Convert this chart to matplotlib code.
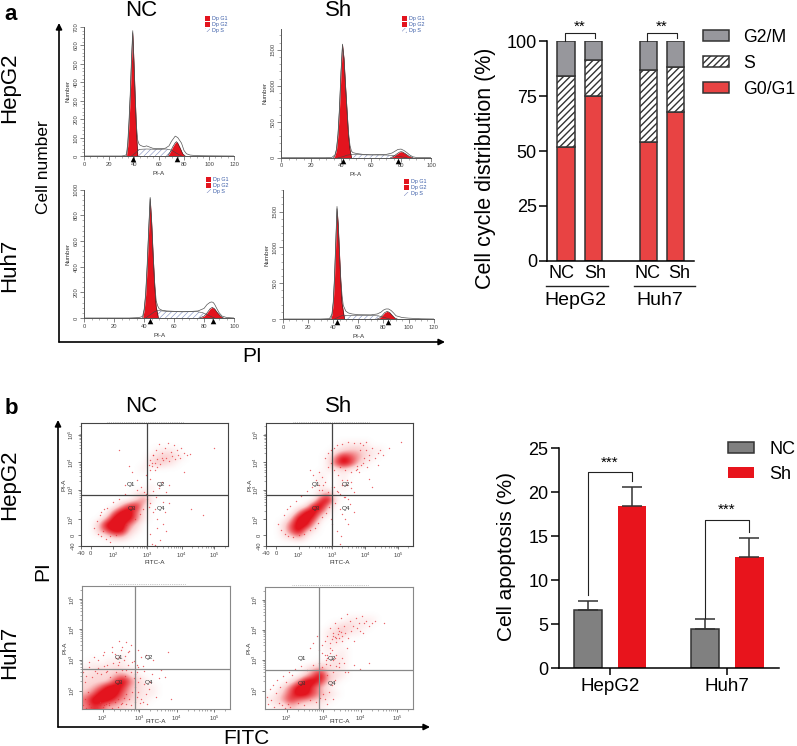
import numpy as np
import matplotlib
matplotlib.use('Agg')
import matplotlib.pyplot as plt
from matplotlib.colors import LinearSegmentedColormap
from matplotlib.transforms import blended_transform_factory

plt.rcParams['font.family'] = ['Liberation Sans', 'DejaVu Sans']
plt.rcParams['mathtext.default'] = 'regular'

W, H = 797, 746
RED_FLOW = '#E3141E'

""" cell cycle histograms: x is PI-A, y is Number """
a_x = [0, 30, 33, 34, 35, 36, 37, 38, 39, 40, 41, 42, 43, 44, 45, 48, 50, 55, 60, 65, 68, 70, 73, 75, 78, 80, 82, 85, 90, 100, 120]
a_total = [0, 0, 3, 10, 70, 190, 340, 530, 680, 510, 320, 160, 85, 65, 58, 50, 55, 42, 40, 42, 55, 80, 108, 100, 70, 30, 12, 5, 2, 1, 0]
a_g1_x = [34, 35, 36, 37, 38, 39, 40, 41, 42, 43]
a_g1_y = [0, 55, 175, 325, 515, 670, 495, 305, 130, 0]
a_s_x = [38, 41, 44, 50, 60, 66, 70, 74, 78]
a_s_y = [0, 15, 36, 38, 36, 38, 32, 15, 0]
a_g2_x = [67, 69, 71, 73, 74, 75, 77, 79, 81]
a_g2_y = [0, 22, 50, 72, 78, 70, 42, 12, 0]

b_x = [0, 30, 34, 36, 37, 38, 39, 40, 41, 42, 43, 44, 45, 46, 47, 48, 50, 55, 60, 70, 74, 76, 78, 80, 82, 84, 86, 88, 90, 100]
b_total = [0, 0, 5, 40, 120, 330, 700, 1200, 1580, 1390, 1020, 680, 350, 170, 90, 70, 60, 45, 40, 45, 65, 90, 115, 120, 100, 70, 35, 12, 4, 0]
b_g1_x = [35, 36, 37, 38, 39, 40, 41, 42, 43, 44, 45, 46, 47]
b_g1_y = [0, 30, 110, 320, 680, 1180, 1570, 1370, 1000, 650, 310, 110, 0]
b_s_x = [38, 41, 44, 47, 55, 65, 72, 78, 84]
b_s_y = [0, 12, 35, 45, 40, 38, 36, 20, 0]
b_g2_x = [73, 75, 77, 79, 80, 81, 83, 85, 88]
b_g2_y = [0, 18, 50, 78, 84, 80, 55, 25, 0]

c_x = [0, 30, 36, 38, 39, 40, 41, 42, 43, 44, 45, 46, 47, 48, 49, 50, 52, 55, 60, 70, 76, 80, 82, 84, 85, 86, 87, 88, 90, 92, 95, 100]
c_total = [0, 0, 3, 8, 15, 70, 190, 415, 690, 940, 750, 495, 280, 135, 95, 72, 60, 55, 52, 50, 55, 75, 105, 122, 125, 122, 108, 85, 42, 15, 4, 0]
c_g1_x = [39, 40, 41, 42, 43, 44, 45, 46, 47, 48, 49.5]
c_g1_y = [0, 60, 180, 400, 680, 930, 740, 480, 250, 90, 0]
c_s_x = [41, 44, 47, 49, 55, 65, 75, 79, 83, 87]
c_s_y = [0, 25, 50, 58, 52, 48, 50, 42, 20, 0]
c_g2_x = [77, 80, 82, 84, 85.5, 87, 89, 91, 93]
c_g2_y = [0, 15, 40, 72, 83, 72, 40, 15, 0]

d_x = [0, 30, 37, 39, 40, 41, 42, 43, 44, 45, 46, 47, 48, 50, 52, 55, 60, 70, 75, 78, 80, 82, 84, 86, 88, 90, 95, 100, 110, 120]
d_total = [0, 0, 5, 70, 240, 580, 1070, 1570, 1320, 920, 560, 330, 190, 110, 85, 70, 60, 58, 70, 95, 125, 140, 140, 120, 85, 45, 20, 12, 3, 0]
d_g1_x = [38, 39, 40, 41, 42, 43, 44, 45, 46, 47, 49]
d_g1_y = [0, 60, 220, 560, 1050, 1540, 1300, 900, 520, 220, 0]
d_s_x = [41, 44, 47, 50, 60, 70, 76, 80, 85]
d_s_y = [0, 25, 48, 50, 48, 48, 44, 25, 0]
d_g2_x = [75, 77, 79, 81, 83, 85, 87, 89, 91]
d_g2_y = [0, 15, 50, 90, 107, 90, 50, 15, 0]

""" stacked bars, panel a """
cycle_pos = [0, 1, 3, 4]
cycle_label_pos = [-0.15, 1.06, 2.96, 4.12]
cycle_labels = ['NC', 'Sh', 'NC', 'Sh']
g0g1 = [52, 75, 54, 68]
s_phase = [32, 16.3, 32.7, 20.3]
g2m = [16, 8.7, 13.3, 11.7]

""" apoptosis bars, panel b """
lines = ['HepG2', 'Huh7']
nc_apo = [6.6, 4.5]
nc_err = [1.0, 1.15]
sh_apo = [18.4, 12.7]
sh_err = [2.2, 2.15]

""" dot plots, panel b: density read per 5% cell of the box, rows from the top, short rows end in zeros """
nc_hep_density = [
    '', '', '', '',
    '000000000011100',
    '000000000123210',
    '000000000232100',
    '000000001',
    '',
    '',
    '000000000100',
    '0000000120',
    '0000000251',
    '000003782',
    '000059951',
    '000399951',
    '003999520',
    '0036993100',
    '00013310',
    '',
]
sh_hep_density = [
    '', '', '',
    '00000000001111',
    '00000000012332110',
    '00000000148642100',
    '00000000169731000',
    '0000000011210',
    '0000000100100',
    '000000010010',
    '000000010010',
    '0000000240',
    '0000000791',
    '000001893',
    '000049951',
    '000399710',
    '00269930',
    '00269310',
    '0012410',
    '',
]
nc_huh_density = [
    '', '', '', '', '', '', '', '', '', '', '',
    '0000010',
    '01011100',
    '1121211',
    '12223421',
    '222269521',
    '2359973211',
    '35999532110',
    '59996431100',
    '4763321100',
]
sh_huh_density = [
    '', '', '', '', '',
    '0000000000011110',
    '000000000122110',
    '000000001231100',
    '00000000121',
    '0000000011',
    '00000000101',
    '000000000110',
    '000000011210',
    '0000013421100',
    '000002593210',
    '0001499731',
    '00259963100',
    '0136996421',
    '124754321',
    '011321110',
]

# single dots around the clouds, percent of the box
nc_hep_x = [9, 11, 12, 13, 14, 14, 15, 16, 17, 18, 20, 22, 24, 26, 28, 30, 31, 33, 35, 37, 38, 40, 41, 42, 43, 44, 45, 46, 46, 47, 48, 49, 50, 51, 52, 53, 54, 55, 56, 57, 58, 59, 60, 61, 62, 63, 64, 65, 66, 67, 68, 70, 72, 74, 44, 47, 50, 53, 55, 58, 60, 49, 52, 56, 35, 38, 30, 47, 50, 52, 54, 47, 49, 51, 56, 57, 60, 75, 83, 90, 33, 26, 20, 48, 50, 53, 58, 70, 48, 52, 55, 47, 49]
nc_hep_y = [15, 20, 10, 25, 8, 28, 12, 30, 6, 31, 8, 36, 9, 38, 12, 42, 17, 20, 24, 22, 46, 26, 48, 30, 44, 42, 38, 32, 66, 70, 65, 74, 68, 78, 71, 83, 67, 76, 70, 80, 72, 84, 69, 77, 73, 82, 71, 78, 74, 72, 80, 76, 74, 75, 58, 55, 62, 47, 52, 44, 50, 28, 22, 18, 60, 54, 50, 35, 30, 15, 5, 10, 45, 40, 36, 28, 35, 30, 25, 80, 65, 78, 3, 2, 1, 50, 12, 60, 68, 64, 72, 62, 74]

sh_hep_x = [8, 10, 12, 13, 14, 15, 16, 18, 20, 22, 24, 26, 28, 30, 31, 33, 35, 36, 38, 39, 41, 42, 43, 44, 45, 36, 38, 40, 42, 44, 45, 46, 48, 49, 50, 52, 54, 55, 56, 58, 60, 61, 62, 63, 64, 65, 66, 67, 68, 69, 70, 72, 74, 76, 78, 80, 84, 40, 42, 44, 46, 48, 50, 52, 54, 56, 58, 60, 62, 64, 66, 68, 70, 30, 32, 34, 36, 38, 47, 50, 52, 54, 56, 48, 51, 53, 57, 60, 72, 70, 76, 92, 46, 49, 52, 55, 58, 50]
sh_hep_y = [18, 13, 25, 10, 30, 8, 33, 7, 37, 9, 41, 10, 45, 13, 48, 15, 19, 46, 24, 50, 27, 44, 32, 22, 18, 60, 56, 52, 64, 68, 48, 62, 45, 58, 42, 54, 40, 50, 38, 47, 44, 62, 65, 60, 78, 66, 82, 72, 78, 64, 74, 80, 72, 76, 78, 74, 80, 72, 76, 78, 80, 82, 64, 83, 62, 85, 60, 84, 63, 84, 68, 85, 70, 62, 58, 54, 50, 46, 35, 30, 26, 22, 18, 12, 8, 40, 34, 28, 48, 55, 66, 85, 48, 44, 50, 54, 52, 2]

nc_huh_x = [1, 1, 2, 2, 3, 3, 4, 5, 5, 6, 7, 8, 9, 10, 11, 12, 13, 14, 15, 16, 17, 18, 19, 20, 21, 22, 23, 24, 25, 26, 27, 28, 29, 30, 31, 32, 33, 34, 35, 36, 37, 38, 5, 8, 11, 14, 17, 20, 23, 26, 29, 32, 35, 38, 12, 15, 18, 21, 24, 27, 30, 33, 36, 39, 37, 38, 39, 40, 41, 42, 43, 45, 47, 50, 53, 56, 60, 33, 38, 43, 48, 27, 30, 22, 25, 28, 31, 34, 37, 40, 42, 44, 46, 52, 58, 10, 16, 24, 30, 36, 41, 15, 20, 25]
nc_huh_y = [3, 30, 8, 22, 1, 27, 14, 4, 34, 2, 26, 1, 31, 2, 33, 3, 28, 2, 35, 4, 31, 3, 26, 1, 37, 6, 30, 8, 38, 4, 32, 9, 27, 12, 36, 8, 30, 14, 25, 18, 10, 22, 38, 42, 40, 44, 36, 46, 41, 48, 43, 47, 39, 34, 6, 3, 5, 8, 2, 5, 4, 3, 6, 5, 30, 14, 25, 8, 35, 20, 12, 16, 28, 10, 32, 26, 8, 52, 48, 44, 40, 50, 54, 45, 42, 40, 46, 38, 36, 42, 31, 4, 22, 25, 46, 29, 30, 36, 32, 28, 6, 46, 50, 55]

sh_huh_x = [1, 2, 3, 4, 5, 6, 7, 8, 9, 10, 11, 12, 13, 14, 15, 16, 17, 18, 20, 22, 24, 26, 28, 30, 32, 34, 36, 37, 38, 39, 40, 41, 42, 43, 44, 45, 46, 47, 48, 36, 38, 40, 42, 42, 44, 44, 45, 46, 47, 48, 49, 50, 51, 52, 53, 54, 55, 56, 57, 58, 59, 60, 61, 62, 63, 64, 65, 66, 67, 68, 70, 72, 74, 40, 42, 44, 46, 48, 50, 52, 54, 30, 32, 35, 38, 41, 44, 47, 50, 53, 56, 60, 64, 70, 46, 48, 50, 52, 45, 47, 49, 51, 80, 55, 42, 46]
sh_huh_y = [10, 4, 16, 7, 20, 2, 13, 24, 5, 18, 3, 27, 1, 22, 4, 30, 2, 28, 33, 5, 35, 3, 32, 7, 36, 6, 38, 9, 34, 12, 8, 37, 28, 14, 36, 20, 30, 24, 35, 48, 52, 56, 44, 60, 54, 66, 48, 60, 70, 55, 66, 58, 74, 60, 68, 62, 78, 58, 72, 64, 68, 56, 74, 66, 70, 64, 76, 62, 70, 72, 68, 70, 72, 44, 42, 46, 40, 44, 38, 42, 30, 50, 54, 60, 46, 40, 50, 42, 34, 38, 30, 36, 33, 38, 62, 58, 64, 56, 57, 59, 61, 63, 70, 50, 4, 8]

density_cmap = LinearSegmentedColormap.from_list('dots', ['#FFFFFF', '#FBD0D0', '#EF6A6E', RED_FLOW])


def ax_px(left, top, right, bottom):
    # axes from pixel edges of the figure
    return fig.add_axes([left / W, 1 - bottom / H, (right - left) / W, (bottom - top) / H])


def label_px(x, y, s, size, **kw):
    kw.setdefault('ha', 'center')
    kw.setdefault('va', 'center')
    fig.text(x / W, 1 - y / H, s, fontsize=size, **kw)


def hist_panel(box, xmax, ymax, xticks, yticks, yminor, legend_xy, total, g1, s_ph, g2, marks):
    ax = ax_px(*box)
    ax.set_xlim(0, xmax)
    ax.set_ylim(0, ymax)
    ax.patch.set_alpha(0)
    for sp in ['top', 'right']:
        ax.spines[sp].set_visible(False)
    for sp in ['left', 'bottom']:
        ax.spines[sp].set_color('#555555')
        ax.spines[sp].set_linewidth(0.7)
    ax.set_xticks(xticks)
    ax.set_yticks(yticks)
    ax.set_yticks(yminor, minor=True)
    ax.set_xticks(np.arange(0, xmax + 1, 5), minor=True)
    ax.tick_params(axis='both', which='major', length=3, width=0.5, color='#555555',
                   labelsize=4.2, labelcolor='#444444', pad=1)
    ax.tick_params(axis='both', which='minor', length=1.5, width=0.4, color='#777777')
    plt.setp(ax.get_yticklabels(), rotation=90, va='center')
    ax.set_xlabel('PI-A', fontsize=4.5, color='#333333', labelpad=3)
    ax.set_ylabel('Number', fontsize=4.5, color='#333333', labelpad=2)

    ax.fill_between(s_ph[0], s_ph[1], color='white', hatch='//////', edgecolor='#7D8CC0', lw=0)
    ax.fill_between(g1[0], g1[1], color=RED_FLOW, lw=0)
    ax.fill_between(g2[0], g2[1], color=RED_FLOW, lw=0)
    ax.plot(g1[0], g1[1], color='#222222', lw=0.4)
    ax.plot(g2[0], g2[1], color='#222222', lw=0.4)
    ax.plot(s_ph[0], s_ph[1], color='#444444', lw=0.4)
    ax.plot(total[0], total[1], color='#555555', lw=0.5)
    trans = blended_transform_factory(ax.transData, ax.transAxes)
    ax.scatter(marks, [-0.022] * len(marks), marker='^', s=16, color='black', transform=trans,
               clip_on=False, zorder=5, linewidths=0)

    # little modfit legend
    for i, (name, col) in enumerate([('Dp G1', RED_FLOW), ('Dp G2', RED_FLOW), ('Dp S', None)]):
        lx, ly = legend_xy
        y = ly + i * 5.9
        if col:
            fig.patches.append(plt.Rectangle(((lx - 2.5) / W, 1 - (y + 2.3) / H), 5 / W, 4.6 / H,
                                             transform=fig.transFigure, color=col, lw=0))
        else:
            fig.patches.append(plt.Rectangle(((lx - 2.5) / W, 1 - (y + 2) / H), 5 / W, 4 / H,
                                             transform=fig.transFigure, facecolor='white',
                                             edgecolor='#7D8CC0', hatch='//////', lw=0))
        label_px(lx + 5, y, name, 3.9, ha='left', color='#3B5DA8')
    return ax


def dot_panel(box, frame_col, cross, xdec, ydec, extra_low, qpos, density, px, py, xpad):
    ax = ax_px(*box)
    grid = np.array([[int(c) for c in row.ljust(20, '0')] for row in density], dtype=float)
    ax.imshow(grid, extent=(0, 100, 0, 100), origin='upper', cmap=density_cmap, vmin=0, vmax=7.5,
              interpolation='bicubic', aspect='auto', zorder=1)
    ax.set_xlim(0, 100)
    ax.set_ylim(0, 100)
    for sp in ax.spines.values():
        sp.set_color(frame_col)
        sp.set_linewidth(0.8)
    ax.scatter(px, py, s=1.0, color='#E5333A', alpha=0.75, linewidths=0, zorder=2)
    ax.axvline(cross[0], color=frame_col, lw=0.9, zorder=3)
    ax.axhline(cross[1], color=frame_col, lw=0.9, zorder=3)
    ax.plot([18, 70], [101, 101], ls=':', color='#999999', lw=0.5, clip_on=False)
    for name, (qx, qy) in zip(['Q1', 'Q2', 'Q3', 'Q4'], qpos):
        ax.text(qx, qy, name, fontsize=4.6, color='#333333', ha='center', va='center', zorder=4)

    powers = [2, 3, 4, 5]
    lab = ['$10^{%d}$' % p for p in powers]
    step = xdec[1] - xdec[0]
    xminor = [d + step * np.log10(m) for d in xdec for m in range(2, 10)]
    step = ydec[1] - ydec[0]
    yminor = [d + step * np.log10(m) for d in ydec for m in range(2, 10)]
    ax.set_xticks(list(extra_low[0]) + list(xdec))
    ax.set_xticklabels(list(extra_low[1]) + lab)
    ax.set_yticks(list(extra_low[2]) + list(ydec))
    ax.set_yticklabels(list(extra_low[3]) + lab, rotation=90, va='center')
    ax.set_xticks([v for v in xminor if v < 100], minor=True)
    ax.set_yticks([v for v in yminor if v < 100], minor=True)
    ax.tick_params(axis='both', which='major', length=2.5, width=0.5, color='#444444',
                   labelsize=4.2, labelcolor='#444444', pad=1)
    ax.tick_params(axis='both', which='minor', length=1.5, width=0.4, color='#666666')
    ax.set_xlabel('FITC-A', fontsize=4.6, color='#333333', labelpad=xpad)
    ax.set_ylabel('PI-A', fontsize=4.6, color='#333333', labelpad=0)
    return ax


fig = plt.figure(figsize=(W / 100, H / 100), dpi=100)

# flow histograms, thin hatch for these
plt.rcParams['hatch.linewidth'] = 0.4
hist_panel((84, 27, 234, 156), 120, 700, range(0, 121, 20), range(0, 701, 100), range(0, 701, 20), (207, 18.3),
           (a_x, a_total), (a_g1_x, a_g1_y), (a_s_x, a_s_y), (a_g2_x, a_g2_y), [39, 74])
hist_panel((281, 29, 431, 157.7), 100, 1790, range(0, 101, 20), [0, 500, 1000, 1500], range(0, 1791, 100), (404, 18.7),
           (b_x, b_total), (b_g1_x, b_g1_y), (b_s_x, b_s_y), (b_g2_x, b_g2_y), [41, 78])
hist_panel((84.3, 189.7, 234, 318), 100, 1000, range(0, 101, 20), range(0, 1001, 200), range(0, 1001, 40), (208, 179.3),
           (c_x, c_total), (c_g1_x, c_g1_y), (c_s_x, c_s_y), (c_g2_x, c_g2_y), [44, 86])
hist_panel((283, 190, 433.7, 319), 120, 1800, range(0, 121, 20), [0, 500, 1000, 1500], range(0, 1801, 100), (406, 181.7),
           (d_x, d_total), (d_g1_x, d_g1_y), (d_s_x, d_s_y), (d_g2_x, d_g2_y), [43, 84])

# dot plots
dot_panel((80.7, 423.3, 228.3, 546), '#444444', (44.7, 41.5), [21.8, 45, 68.4, 90.5], [21.7, 45.6, 68.2, 90.5],
          ([0, 6.8], ['-40', '0'], [0, 9], ['-40', '0']),
          [(34, 50.5), (54.4, 50.5), (34.5, 30.7), (54.2, 30.7)], nc_hep_density, nc_hep_x, nc_hep_y, 0)
dot_panel((266.3, 423.3, 412.7, 546), '#444444', (44.6, 41.5), [22, 45, 67.5, 90], [21.7, 45.6, 68.2, 90.5],
          ([0, 6.8], ['-40', '0'], [0, 9], ['-40', '0']),
          [(34, 50.5), (54.4, 50.5), (34, 30.2), (54.4, 30.2)], sh_hep_density, sh_hep_x, sh_hep_y, 0)
dot_panel((82, 585.7, 230.3, 709), '#888888', (35.5, 32.5), [14, 38.6, 63.8, 89], [15, 40, 64.6, 89],
          ([], [], [], []),
          [(25, 41.6), (45, 41.6), (25, 21.6), (45, 21.6)], nc_huh_density, nc_huh_x, nc_huh_y, -3)
dot_panel((265.3, 586.7, 413.3, 709), '#888888', (36, 32), [14.4, 39, 64.4, 89], [15, 40, 64.6, 89],
          ([], [], [], []),
          [(25, 41), (45, 41), (25, 21), (45, 21)], sh_huh_density, sh_huh_x, sh_huh_y, -3)

# overlay in figure pixels for the long arrows and group rules
over = fig.add_axes([0, 0, 1, 1], zorder=-1)
over.set_xlim(0, W)
over.set_ylim(H, 0)
over.axis('off')
arrow = dict(arrowstyle='-|>', color='black', lw=1.2, mutation_scale=9, shrinkA=0, shrinkB=0)
over.annotate('', xy=(59, 23), xytext=(59, 342), arrowprops=arrow)
over.annotate('', xy=(445, 342), xytext=(59, 342), arrowprops=arrow)
over.annotate('', xy=(58, 420), xytext=(58, 727), arrowprops=arrow)
over.annotate('', xy=(430, 727), xytext=(58, 727), arrowprops=arrow)
over.plot([546, 608], [286, 286], color='#222222', lw=1)
over.plot([634, 695], [286, 286], color='#222222', lw=1)

# big labels
big = 16
label_px(11, 15, 'a', 16, fontweight='bold')
label_px(11, 408, 'b', 16, fontweight='bold')
label_px(141, 11, 'NC', big)
label_px(339, 11, 'Sh', big)
label_px(141, 407, 'NC', big)
label_px(339, 407, 'Sh', big)
label_px(10, 88, 'HepG2', big, rotation=90)
label_px(10, 265, 'Huh7', big, rotation=90)
label_px(10, 485, 'HepG2', big, rotation=90)
label_px(10, 652, 'Huh7', big, rotation=90)
label_px(43, 167, 'Cell number', 12.5, rotation=90)
label_px(43, 571, 'PI', 15, rotation=90)
label_px(252, 357, 'PI', 15)
label_px(246, 738, 'FITC', 15)

""" stacked bars """
plt.rcParams['hatch.linewidth'] = 1.0
ax = ax_px(547.3, 41.3, 694, 260.7)
ax.set_xlim(-0.68, 4.67)
ax.set_ylim(0, 100)
edge = '#333333'
bottom2 = np.array(g0g1) + np.array(s_phase)
ax.bar(cycle_pos, g0g1, 0.63, color='#E84343', edgecolor=edge, lw=1.1, label='G0/G1')
ax.bar(cycle_pos, s_phase, 0.63, bottom=g0g1, color='white', edgecolor=edge, hatch='/////', lw=1.1, label='S')
ax.bar(cycle_pos, g2m, 0.63, bottom=bottom2, color='#97979C', edgecolor=edge, lw=1.1, label='G2/M')
for sp in ['top', 'right']:
    ax.spines[sp].set_visible(False)
ax.spines['left'].set_linewidth(1.1)
ax.spines['bottom'].set_linewidth(1.1)
ax.set_yticks([0, 25, 50, 75, 100])
ax.set_xticks(cycle_label_pos)
ax.set_xticklabels(cycle_labels)
ax.tick_params(axis='y', labelsize=13, length=5.5, width=1.1, pad=2)
ax.tick_params(axis='x', labelsize=13, length=0, pad=3)
ax.set_ylabel('Cell cycle distribution (%)', fontsize=15.5)
ax.yaxis.set_label_coords(-0.35, 0.42)
for (x0, x1) in [(0, 1), (3, 4)]:
    ax.plot([x0 - 0.05, x0 - 0.05, x1 + 0.05, x1 + 0.05], [100, 103.6, 103.6, 101.5], color='#222222', lw=0.8, clip_on=False)
    ax.text((x0 + x1) / 2, 106.5, '**', fontsize=11, ha='center', va='center', clip_on=False)
label_px(575, 301, 'HepG2', 14)
label_px(660, 301, 'Huh7', 14)
h, l = ax.get_legend_handles_labels()
fig.legend(h[::-1], l[::-1], loc='upper left', bbox_to_anchor=(703 / W, 1 - 29 / H), frameon=False, fontsize=12.7,
           handlelength=1.45, handleheight=0.55, handletextpad=0.85, labelspacing=0.5, borderpad=0, borderaxespad=0)

""" apoptosis bars """
ax = ax_px(559, 448.3, 778.7, 668.3)
ax.set_xlim(-0.434, 1.437)
ax.set_ylim(0, 25)
x = np.arange(len(lines))
off = 0.188
bw = 0.24
nc_bars = ax.bar(x - off, nc_apo, bw, color='#808080', edgecolor=edge, lw=1.1, label='NC')
sh_bars = ax.bar(x + off, sh_apo, bw, color='#E8141C', edgecolor=edge, lw=0, label='Sh')
ax.errorbar(x - off, nc_apo, yerr=[[0, 0], nc_err], fmt='none', ecolor=edge, elinewidth=1.1, capsize=7.5, capthick=1.1)
ax.errorbar(x + off, sh_apo, yerr=[[0, 0], sh_err], fmt='none', ecolor=edge, elinewidth=1.1, capsize=7.5, capthick=1.1)
for sp in ['top', 'right']:
    ax.spines[sp].set_visible(False)
ax.spines['left'].set_linewidth(1.1)
ax.spines['bottom'].set_linewidth(1.1)
ax.set_yticks([0, 5, 10, 15, 20, 25])
ax.set_xticks(x)
ax.set_xticklabels(lines)
ax.tick_params(axis='y', labelsize=13, length=5.5, width=1.1, pad=2)
ax.tick_params(axis='x', labelsize=13.5, length=5, width=1.1, pad=2)
ax.set_ylabel('Cell apoptosis (%)', fontsize=15)
ax.yaxis.set_label_coords(-0.196, 0.51)
ax.plot([-off, -off, off, off], [8.3, 22.3, 22.3, 21.3], color='#222222', lw=0.8)
ax.plot([1 - off, 1 - off, 1 + off, 1 + off], [5.7, 16.85, 16.85, 15.5], color='#222222', lw=0.8)
ax.text(0, 23.4, '***', fontsize=11, ha='center', va='center')
ax.text(1 - 0.01, 18, '***', fontsize=11, ha='center', va='center')
fig.legend([nc_bars, sh_bars], ['NC', 'Sh'], loc='upper left', bbox_to_anchor=(727.7 / W, 1 - 441 / H), frameon=False,
           fontsize=13, handlelength=1.45, handleheight=0.55, handletextpad=0.85, labelspacing=0.44, borderpad=0, borderaxespad=0)

fig.savefig('out.png', dpi=100)
